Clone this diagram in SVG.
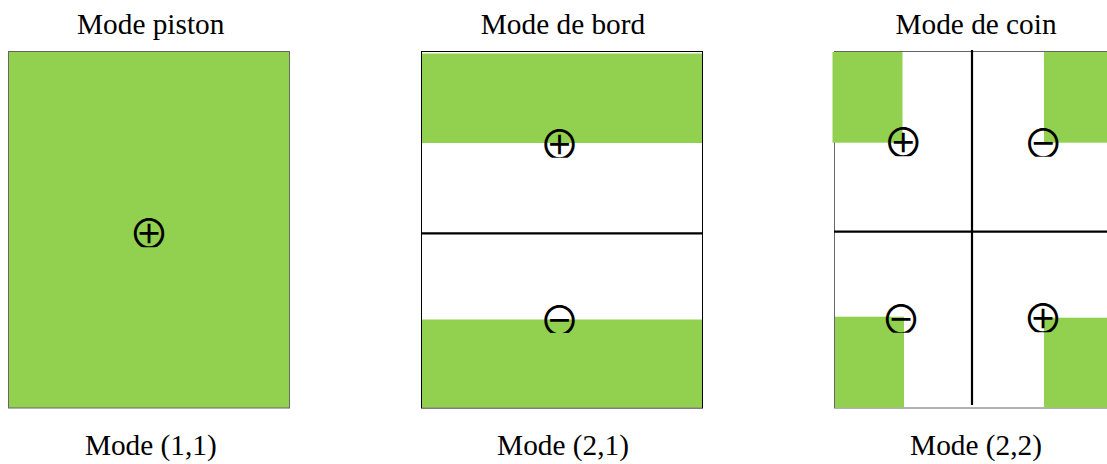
<svg xmlns="http://www.w3.org/2000/svg" width="1107" height="464" viewBox="0 0 1107 464">
<style>
.lbl{font-family:"Liberation Serif","Times New Roman",serif;font-size:29.3px;fill:#000;text-anchor:middle}
.sym{font-family:"Noto Sans CJK JP","DejaVu Sans",sans-serif;font-size:41px;fill:#000;text-anchor:middle}
.g{fill:#92D050}
.div{stroke:#000;stroke-width:2.2}
</style>
<defs>
<clipPath id="cp"><rect x="-25" y="-25" width="50" height="39.5"/></clipPath>
<clipPath id="cm"><rect x="-25" y="-25" width="50" height="38.7"/></clipPath>
</defs>
<rect width="1107" height="464" fill="#fff"/>
<g id="piston">
<text class="lbl" x="150.7" y="34">Mode piston</text>
<rect x="8.5" y="51.5" width="281" height="356.5" class="g" stroke="#666" stroke-width="1"/>
<g transform="translate(149,232.7)"><text class="sym" x="0" y="16.3" clip-path="url(#cp)">⊕</text></g>
<text class="lbl" x="150.8" y="455">Mode (1,1)</text>
</g>
<g id="bord">
<text class="lbl" x="563" y="34">Mode de bord</text>
<rect x="421.5" y="51.5" width="281" height="356.5" fill="#fff" stroke="#000" stroke-width="1"/>
<rect x="422" y="53.5" width="280" height="89.5" class="g"/>
<rect x="422" y="319.5" width="280" height="88" class="g"/>
<g transform="translate(559.5,143.2)"><text class="sym" x="0" y="16.3" clip-path="url(#cp)">⊕</text></g>
<g transform="translate(559.5,319.3)"><text class="sym" x="0" y="16.3" clip-path="url(#cm)">⊖</text></g>
<text class="lbl" x="563" y="455">Mode (2,1)</text>
</g>
<g id="coin">
<text class="lbl" x="976" y="34">Mode de coin</text>
<rect x="834.5" y="51.5" width="280" height="356.5" fill="#fff" stroke="#666" stroke-width="1"/>
<rect x="832.5" y="52" width="70" height="90.7" class="g"/>
<rect x="1044" y="52" width="63" height="90.7" class="g"/>
<rect x="835" y="316.7" width="69" height="91" class="g"/>
<rect x="1044" y="317.7" width="63" height="90" class="g"/>
<g transform="translate(903.3,141.7)"><text class="sym" x="0" y="16.3" clip-path="url(#cp)">⊕</text></g>
<g transform="translate(1043.3,143)"><text class="sym" x="0" y="16.3" clip-path="url(#cm)">⊖</text></g>
<g transform="translate(901,319)"><text class="sym" x="0" y="16.3" clip-path="url(#cm)">⊖</text></g>
<g transform="translate(1043,317.7)"><text class="sym" x="0" y="16.3" clip-path="url(#cp)">⊕</text></g>
<text class="lbl" x="976" y="455">Mode (2,2)</text>
</g>
<g id="connectors">
<line class="div" x1="422" y1="233.3" x2="702" y2="233.3"/>
<line class="div" x1="972" y1="50" x2="972" y2="405"/>
<line class="div" x1="834" y1="231.7" x2="1107" y2="231.7"/>
</g>
</svg>
